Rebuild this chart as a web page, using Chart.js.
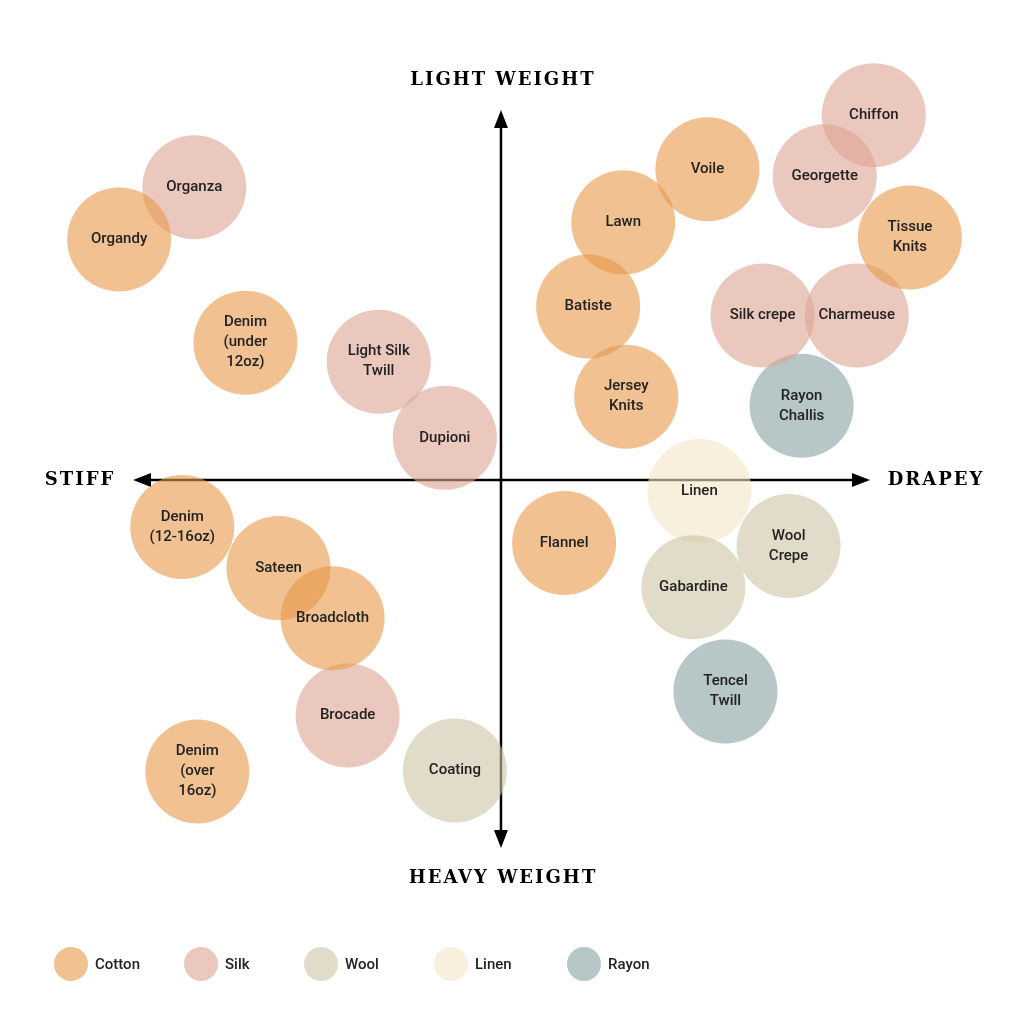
<!DOCTYPE html>
<html><head><meta charset="utf-8">
<script src="https://cdn.jsdelivr.net/npm/chart.js@4"></script>
<style>body{margin:0;background:#fff}#w{width:1024px;height:1024px;position:relative}</style>
</head><body><div id="w"><canvas id="c"></canvas></div>
<script>
const groups = ["Cotton","Silk","Wool","Linen","Rayon"];
const colors = ["rgba(232,152,72,0.6)","rgba(222,163,147,0.6)","rgba(203,197,165,0.6)","rgba(243,228,198,0.6)","rgba(135,160,162,0.6)"];
const cottonLabels = ["Organdy","Voile","Lawn","Batiste","Jersey\nKnits","Tissue\nKnits","Denim\n(under\n12oz)","Denim\n(12-16oz)","Sateen","Broadcloth","Denim\n(over\n16oz)","Flannel"];
const cottonX = [-381,206,122,87,125,408,-255,-318,-222,-168,-303,63];
const cottonY = [240,310,257,173,83,242,137,-47,-88,-138,-291,-63];
const silkLabels = ["Chiffon","Georgette","Organza","Silk crepe","Charmeuse","Light Silk\nTwill","Dupioni","Brocade"];
const silkX = [372,323,-306,261,355,-122,-56,-153];
const silkY = [364,303,292,164,164,118,42,-235];
const woolLabels = ["Wool\nCrepe","Gabardine","Coating"];
const woolX = [287,192,-46];
const woolY = [-66,-107,-290];
const linenLabels = ["Linen"];
const linenX = [198];
const linenY = [-11];
const rayonLabels = ["Rayon\nChallis","Tencel\nTwill"];
const rayonX = [300,224];
const rayonY = [74,-211];
const R = 52;
const src = [[cottonLabels,cottonX,cottonY],[silkLabels,silkX,silkY],[woolLabels,woolX,woolY],[linenLabels,linenX,linenY],[rayonLabels,rayonX,rayonY]];
const datasets = src.map((s,i)=>({label:groups[i],backgroundColor:colors[i],borderWidth:0,hoverBorderWidth:0,
  data:s[1].map((x,j)=>({x:x,y:s[2][j],r:R,name:s[0][j]}))}));

const deco = {id:'deco',
  beforeDatasetsDraw(ch){
    const c=ch.ctx, xs=ch.scales.x, ys=ch.scales.y;
    const ox=xs.getPixelForValue(0), oy=ys.getPixelForValue(0);
    c.save(); c.strokeStyle='#000'; c.fillStyle='#000'; c.lineWidth=2.5;
    const x1=133,x2=870,y1=110,y2=848;
    c.beginPath(); c.moveTo(x1+10,oy); c.lineTo(x2-10,oy); c.moveTo(ox,y1+10); c.lineTo(ox,y2-10); c.stroke();
    const head=(x,y,dx,dy)=>{c.beginPath();c.moveTo(x,y);c.lineTo(x-dx*18+dy*7,y-dy*18+dx*7);c.lineTo(x-dx*18-dy*7,y-dy*18-dx*7);c.closePath();c.fill();};
    head(x2,oy,1,0);head(x1,oy,-1,0);head(ox,y1,0,-1);head(ox,y2,0,1);
    c.font='bold 18px "DejaVu Serif"'; c.letterSpacing='2px'; c.textBaseline='middle';
    c.textAlign='center'; c.fillText('LIGHT WEIGHT',ox+2,80); c.fillText('HEAVY WEIGHT',ox+2,878);
    c.fillText('STIFF',80,480); c.fillText('DRAPEY',936,480);
    c.restore();
  },
  afterDatasetsDraw(ch){
    const c=ch.ctx; c.save(); c.fillStyle='#222'; c.font='500 15px Roboto'; c.textAlign='center'; c.textBaseline='middle';
    ch.data.datasets.forEach((ds,i)=>{ch.getDatasetMeta(i).data.forEach((el,j)=>{
      const lines=ds.data[j].name.split('\n'); const lh=20;
      lines.forEach((t,k)=>c.fillText(t,el.x,el.y+(k-(lines.length-1)/2)*lh));});});
    const lx=[71,201,321,451,584];
    groups.forEach((g,i)=>{c.beginPath();c.fillStyle=colors[i];c.arc(lx[i],964,17,0,Math.PI*2);c.fill();
      c.fillStyle='#222';c.textAlign='left';c.fillText(g,lx[i]+24,965);});
    c.restore();
  }};
new Chart(document.getElementById('c'),{type:'bubble',data:{datasets},
  options:{responsive:true,maintainAspectRatio:false,animation:false,layout:{padding:0},
    plugins:{legend:{display:false},tooltip:{enabled:false}},
    scales:{x:{display:false,min:-448,max:470},y:{display:false,min:-491,max:427}}},
  plugins:[deco]});
</script></body></html>
